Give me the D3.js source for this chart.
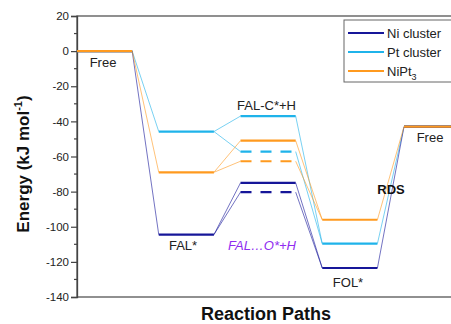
<!DOCTYPE html>
<html>
<head>
<meta charset="utf-8">
<script src="https://cdn.jsdelivr.net/npm/d3@7"></script>
<style>
body { margin: 0; background: #fff; }
text { font-family: "Liberation Sans", Arial, sans-serif; }
</style>
</head>
<body>
<script>
// reaction states (one level each)
var states = ["Free", "FAL*", "FAL-C*+H", "FOL*", "Free"];
var niCluster = [0, -104.5, -75, -123.5, -43];
var ptCluster = [0, -45.8, -37, -109.6, -43];
var niPt3 = [0, -69, -51, -96, -43];
// alternative path FAL...O*+H (dashed, drawn at state 2)
var altNi = -80.3, altPt = -57.2, altNiPt3 = -62.7;
var yTicks = [20, 0, -20, -40, -60, -80, -100, -120, -140];

var series = [
  {name: "Ni cluster", vals: niCluster, alt: altNi, color: "#161699"},
  {name: "Pt cluster", vals: ptCluster, alt: altPt, color: "#1fb3ea"},
  {name: "NiPt3", vals: niPt3, alt: altNiPt3, color: "#ff9a1f"}
];
// drawing order: Pt, Ni, NiPt3 on top (orange visible at shared levels)
var drawOrder = [1, 0, 2];

function draw()
{
    var width = 451, height = 324;
    var svg = d3.select("body").append("svg")
        .attr("width", width).attr("height", height);

    var y = d3.scaleLinear().domain([-140, 20]).range([297, 16]);
    var x = d3.scaleLinear().domain([0, 5]).range([77, 485.75]);
    var lw = 0.675; // level width in x units

    // frame
    svg.append("rect").attr("x", 77).attr("y", 16).attr("width", 380).attr("height", 281)
       .attr("fill", "none").attr("stroke", "#555").attr("stroke-width", 1.3);

    // y axis
    var axis = d3.axisLeft(y).tickValues(yTicks).tickSize(6).tickPadding(2)
        .tickFormat(function (d) { return String(d); });
    var g = svg.append("g").attr("transform", "translate(77,0)").call(axis);
    g.select(".domain").attr("stroke", "#444").attr("stroke-width", 1.3);
    g.selectAll(".tick line").attr("stroke", "#444").attr("stroke-width", 1.2);
    g.selectAll(".tick text").attr("font-size", 11.5).attr("fill", "#222")
     .attr("font-family", "Liberation Sans, Arial, sans-serif");
    // minor ticks
    var minor = d3.range(-130, 20, 20);
    svg.selectAll("line.minor").data(minor).enter().append("line")
       .attr("x1", 74).attr("x2", 77)
       .attr("y1", function (d) { return y(d); }).attr("y2", function (d) { return y(d); })
       .attr("stroke", "#444").attr("stroke-width", 1.2);

    var lines = svg.append("g");
    var levels = svg.append("g");

    drawOrder.forEach(function (k)
    {
        var s = series[k];
        var v = s.vals;
        // connectors
        for (var i = 0; i < v.length - 1; i++)
        {
            var from = [v[i]], to = [v[i + 1]];
            if (i === 1) to.push(s.alt);
            if (i === 2) from.push(s.alt);
            from.forEach(function (a)
            {
                to.forEach(function (b)
                {
                    lines.append("line")
                        .attr("x1", x(i + lw)).attr("y1", y(a))
                        .attr("x2", x(i + 1)).attr("y2", y(b))
                        .attr("stroke", s.color).attr("stroke-opacity", 0.6)
                        .attr("stroke-width", 1);
                });
            });
        }
        // levels
        v.forEach(function (val, i)
        {
            levels.append("line")
                .attr("x1", x(i)).attr("x2", x(i + lw))
                .attr("y1", y(val)).attr("y2", y(val))
                .attr("stroke", s.color).attr("stroke-width", 2.2);
        });
        levels.append("line")
            .attr("x1", x(2)).attr("x2", x(2 + lw))
            .attr("y1", y(s.alt)).attr("y2", y(s.alt))
            .attr("stroke", s.color).attr("stroke-width", 2.2)
            .attr("stroke-dasharray", "11,9");
    });

    // state labels
    var labels = [
        {t: "Free", x: 103, y: 67},
        {t: "FAL*", x: 183, y: 250},
        {t: "FAL-C*+H", x: 266.5, y: 110},
        {t: "FOL*", x: 348, y: 287},
        {t: "Free", x: 430, y: 142}
    ];
    svg.selectAll("text.lbl").data(labels).enter().append("text")
       .attr("x", function (d) { return d.x; }).attr("y", function (d) { return d.y; })
       .attr("text-anchor", "middle").attr("font-size", 13).attr("fill", "#222")
       .text(function (d) { return d.t; });
    svg.append("text").attr("x", 262).attr("y", 250).attr("text-anchor", "middle")
       .attr("font-size", 13).attr("font-style", "italic").attr("fill", "#8f2cf0")
       .text("FAL\u2026O*+H");
    svg.append("text").attr("x", 391).attr("y", 194).attr("text-anchor", "middle")
       .attr("font-size", 13).attr("font-weight", "bold").attr("fill", "#111")
       .text("RDS");

    // axis titles
    svg.append("text").attr("x", 266).attr("y", 320).attr("text-anchor", "middle")
       .attr("font-size", 18).attr("font-weight", "bold").attr("fill", "#111")
       .text("Reaction Paths");
    var yt = svg.append("text").attr("transform", "translate(29,164) rotate(-90)")
       .attr("text-anchor", "middle").attr("font-size", 17).attr("font-weight", "bold")
       .attr("fill", "#111");
    yt.append("tspan").text("Energy (kJ mol");
    yt.append("tspan").attr("font-size", 11).attr("dy", -7).text("-1");
    yt.append("tspan").attr("dy", 7).text(")");

    // legend
    var lg = svg.append("g");
    lg.append("rect").attr("x", 344).attr("y", 20).attr("width", 120).attr("height", 62)
      .attr("fill", "#fff").attr("stroke", "#666").attr("stroke-width", 1);
    series.forEach(function (s, i)
    {
        var yy = 33 + i * 19;
        lg.append("line").attr("x1", 348).attr("x2", 384).attr("y1", yy).attr("y2", yy)
          .attr("stroke", s.color).attr("stroke-width", 2);
        var t = lg.append("text").attr("x", 387).attr("y", yy + 5)
          .attr("font-size", 13).attr("fill", "#222");
        if (s.name === "NiPt3")
        {
            t.append("tspan").text("NiPt");
            t.append("tspan").attr("font-size", 9).attr("dy", 4).text("3");
        }
        else t.text(s.name);
    });
}
window.onload = draw;
</script>
</body>
</html>
